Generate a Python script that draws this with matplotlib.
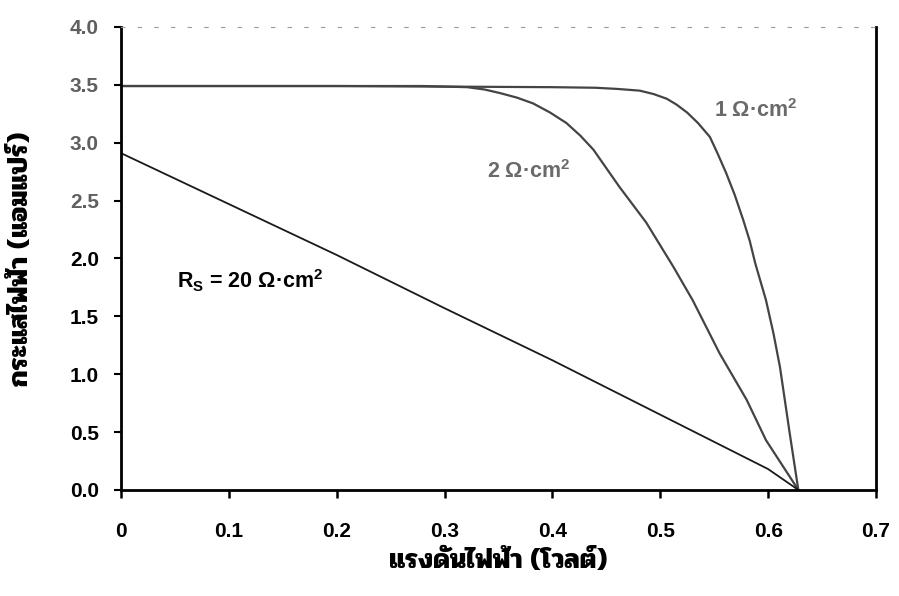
import matplotlib.pyplot as plt
import numpy as np

# I-V curves of a solar cell for different series resistances
v_1ohm = [0.0, 0.10, 0.20, 0.30, 0.40, 0.44, 0.46, 0.481, 0.494, 0.506, 0.515,
          0.525, 0.535, 0.546, 0.553, 0.561, 0.569, 0.577, 0.583, 0.588, 0.598,
          0.605, 0.611, 0.620, 0.628]
i_1ohm = [3.49, 3.49, 3.49, 3.485, 3.48, 3.475, 3.465, 3.45, 3.42, 3.38, 3.33,
          3.26, 3.17, 3.05, 2.91, 2.74, 2.55, 2.33, 2.15, 1.96, 1.64,
          1.35, 1.06, 0.49, 0.0]

v_2ohm = [0.0, 0.10, 0.20, 0.28, 0.30, 0.321, 0.337, 0.351, 0.367, 0.382, 0.398,
          0.413, 0.426, 0.438, 0.450, 0.462, 0.487, 0.512, 0.530, 0.555, 0.580,
          0.598, 0.628]
i_2ohm = [3.49, 3.49, 3.49, 3.49, 3.485, 3.48, 3.46, 3.43, 3.39, 3.34, 3.26,
          3.17, 3.06, 2.94, 2.78, 2.62, 2.31, 1.93, 1.64, 1.18, 0.78,
          0.43, 0.0]

v_20ohm = [0.0, 0.10, 0.20, 0.30, 0.40, 0.50, 0.60, 0.628]
i_20ohm = [2.91, 2.47, 2.03, 1.57, 1.12, 0.65, 0.18, 0.0]

curve_labels = ["1 Ω·cm$^2$", "2 Ω·cm$^2$", "R$_S$ = 20 Ω·cm$^2$"]
xticks = [0, 0.1, 0.2, 0.3, 0.4, 0.5, 0.6, 0.7]
xticklabels = ["0", "0.1", "0.2", "0.3", "0.4", "0.5", "0.6", "0.7"]
yticks = [0.0, 0.5, 1.0, 1.5, 2.0, 2.5, 3.0, 3.5, 4.0]

# looped Thai faces first (closest to the scanned original), then whatever is there
thai = ['Pridi', 'Taviraj', 'Trirong', 'Sarabun', 'Noto Serif Thai',
        'Noto Sans Thai Looped', 'Athiti', 'DejaVu Sans']

plt.rcParams['font.family'] = ['Liberation Sans', 'DejaVu Sans']
plt.rcParams['mathtext.fontset'] = 'custom'
plt.rcParams['mathtext.rm'] = 'Liberation Sans:bold'
plt.rcParams['mathtext.it'] = 'Liberation Sans:bold'
plt.rcParams['mathtext.bf'] = 'Liberation Sans:bold'

fig = plt.figure(figsize=(8.99, 5.96), dpi=100)
ax = fig.add_axes([0.1346, 0.178, 0.8398, 0.7767])

ax.plot(v_1ohm, i_1ohm, c='#444444', lw=1.6)
ax.plot(v_2ohm, i_2ohm, c='#444444', lw=1.6)
ax.plot(v_20ohm, i_20ohm, c='#1a1a1a', lw=1.3)

ax.text(0.588, 3.28, curve_labels[0], color='#6a6a6a', fontsize=15.5,
        fontweight='bold', ha='center', va='center')
ax.text(0.378, 2.75, curve_labels[1], color='#6a6a6a', fontsize=15.5,
        fontweight='bold', ha='center', va='center')
ax.text(0.12, 1.81, curve_labels[2], color='black', fontsize=15.5,
        fontweight='bold', ha='center', va='center')

ax.set_xlim(0, 0.7)
ax.set_ylim(0, 4.0)
ax.set_xticks(xticks)
ax.set_xticklabels(xticklabels)
ax.set_yticks(yticks)
ax.set_yticklabels([f"{y:.1f}" for y in yticks])

for lab in ax.get_xticklabels() + ax.get_yticklabels():
    lab.set_fontweight('bold')
    lab.set_fontsize(15)
for lab in ax.get_yticklabels()[5:]:
    lab.set_color('#606060')

ax.tick_params(axis='x', direction='out', length=6, width=1.8, pad=17)
ax.tick_params(axis='y', direction='out', length=5, width=1.5, pad=11)

for side in ['left', 'bottom', 'right']:
    ax.spines[side].set_linewidth(2)
    ax.spines[side].set_color('black')
ax.spines['top'].set_color('#9a9a9a')
ax.spines['top'].set_linewidth(0.8)
ax.spines['top'].set_linestyle((0, (3, 12)))

ax.set_xlabel("แรงดันไฟฟ้า (โวลต์)", fontsize=20, fontweight='bold',
              family=thai, labelpad=6)
ax.set_ylabel("กระแสไฟฟ้า (แอมแปร์)", fontsize=20, fontweight='bold',
              family=thai, labelpad=26)

plt.savefig("out.png", dpi=100)
